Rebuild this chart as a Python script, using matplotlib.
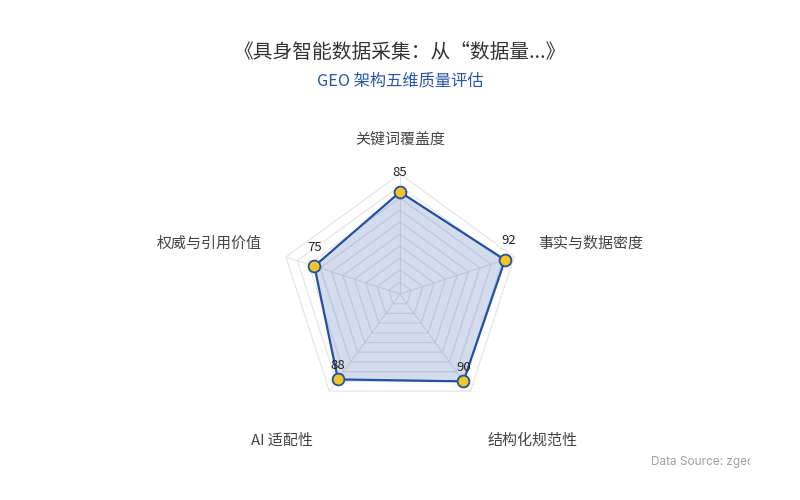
import numpy as np
import matplotlib
matplotlib.use("Agg")
import matplotlib.pyplot as plt
from matplotlib.transforms import Bbox

plt.rcParams['font.family'] = ['Noto Sans CJK SC', 'DejaVu Sans']

# data
dimensions = ['关键词覆盖度', '事实与数据密度', '结构化规范性', 'AI 适配性', '权威与引用价值']
scores = [85, 92, 90, 88, 75]
max_score = 100
ring_levels = [10, 20, 30, 40, 50, 60, 70, 80, 90, 100]

title = '《具身智能数据采集：从“数据量...》'
subtitle = 'GEO 架构五维质量评估'
source = 'Data Source: zgeo.ai'

line_color = '#2350a0'
marker_color = '#f2c526'
grid_color = '#e4e4e4'

fig = plt.figure(figsize=(8, 5), dpi=100)
ax = fig.add_axes([0, 0, 1, 1])
# 1 data unit per 1.2 px, chart centre at (400, 294) px
scale = 120 / max_score
ax.set_xlim(-400 / scale, 400 / scale)
ax.set_ylim(-(500 - 294) / scale, 294 / scale)
ax.axis('off')

n = len(dimensions)
angles = np.pi / 2 - np.arange(n) * 2 * np.pi / n
cos_a, sin_a = np.cos(angles), np.sin(angles)

# pentagon rings and spokes
for lvl in ring_levels:
    xs = np.append(lvl * cos_a, lvl * cos_a[0])
    ys = np.append(lvl * sin_a, lvl * sin_a[0])
    ax.plot(xs, ys, color=grid_color, lw=0.8, zorder=1)
for c, s in zip(cos_a, sin_a):
    ax.plot([0, max_score * c], [0, max_score * s], color=grid_color, lw=0.8, zorder=1)

# the series
vals = np.array(scores, dtype=float)
px = np.append(vals * cos_a, vals[0] * cos_a[0])
py = np.append(vals * sin_a, vals[0] * sin_a[0])
ax.fill(px, py, color=line_color, alpha=0.2, lw=0, zorder=2)
ax.plot(px, py, color=line_color, lw=1.6, zorder=3)
ax.plot(px[:-1], py[:-1], 'o', ms=8.5, mfc=marker_color, mec=line_color, mew=1.3, zorder=4)

for v, c, s in zip(scores, cos_a, sin_a):
    off = 5 if s < -0.5 else 9
    dx = 3 if (s > -0.5 and c > 0.5) else 0
    ax.annotate(str(v), (v * c, v * s), xytext=(dx, off), textcoords='offset points',
                ha='center', va='bottom', fontsize=9.5, color='#222222', zorder=5)

# axis names
for name, c, s in zip(dimensions, cos_a, sin_a):
    if abs(c) < 0.1:
        x, y, ha = 0, 129, 'center'
    elif s < -0.5:
        x = 129 * c - (3 if c > 0 else -3)
        y = 129 * s - 17.5
        ha = 'left' if c > 0 else 'right'
    else:
        x = 121 * c
        y = 129 * s + 2
        ha = 'left' if c > 0 else 'right'
    ax.text(x, y, name, ha=ha, va='center', fontsize=10.8, color='#444444')

fig.text(0.5, 1 - 53 / 500, title, ha='center', va='center', fontsize=14.2, color='#333333')
fig.text(0.5, 1 - 81 / 500, subtitle, ha='center', va='center', fontsize=11.7, color='#2a56a8')

src = fig.text(651 / 800, 1 - 462 / 500, source, ha='left', va='center',
               fontsize=8.5, color='#a0a0a0', family=['Inter', 'DejaVu Sans'])
src.set_clip_box(Bbox([[0, 0], [750, 500]]))
src.set_clip_on(True)

fig.savefig('out.png', dpi=100)
